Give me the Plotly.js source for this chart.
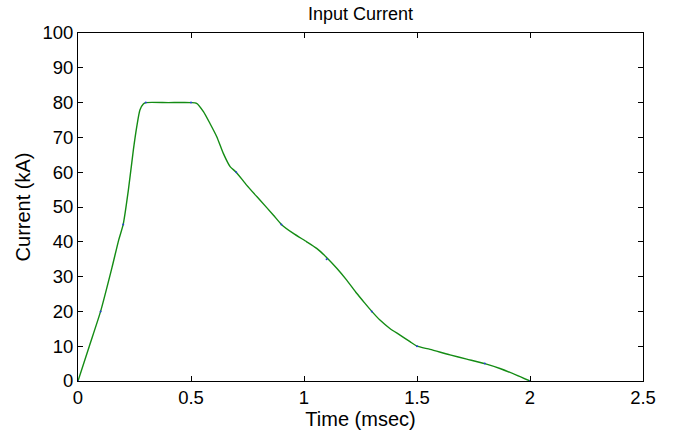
<!DOCTYPE html>
<html>
<head>
<meta charset="utf-8">
<script src="https://cdn.plot.ly/plotly-3.0.1.min.js"></script>
<style>html,body{margin:0;padding:0;background:#fff;}#chart{width:679px;height:436px;}</style>
</head>
<body>
<div id="chart"></div>
<script>
// Input current waveform (time in msec, current in kA)
const timeMs = [0, 0.05, 0.1, 0.15, 0.18, 0.2, 0.223, 0.245, 0.26, 0.274, 0.289, 0.3,
  0.4, 0.5, 0.525, 0.555, 0.584, 0.614, 0.643, 0.673, 0.7, 0.746, 0.805, 0.864, 0.9,
  0.953, 1.012, 1.056, 1.1, 1.145, 1.189, 1.233, 1.27, 1.3, 1.336, 1.38, 1.425, 1.469,
  1.5, 1.558, 1.646, 1.72, 1.8, 1.867, 1.94, 2.0];
const currentKA = [0, 10, 20, 32.5, 40.5, 45, 54.9, 66.4, 73.1, 77.9, 79.6, 80,
  80, 80, 79.8, 77.4, 74, 70.2, 65.4, 61.6, 60, 56.3, 52, 47.7, 45,
  42.4, 40, 38.1, 35.5, 32.4, 29, 25.2, 22.3, 20, 17.5, 15.1, 13.2, 11.3,
  10, 9.1, 7.5, 6.3, 5, 3.6, 1.7, 0];
// Sample points marked with small dots
const sampleTime = [0, 0.1, 0.2, 0.3, 0.5, 0.7, 0.9, 1.1, 1.3, 1.5, 1.8, 2.0];
const sampleCurrent = [0, 20, 45, 80, 80, 60, 45, 35, 20, 10, 5, 0];

const xTicks = [0, 0.5, 1, 1.5, 2, 2.5];
const xTickText = ['0', '0.5', '1', '1.5', '2', '2.5'];
const yTicks = [0, 10, 20, 30, 40, 50, 60, 70, 80, 90, 100];

const font = 'Liberation Sans, Arial, sans-serif';

const traces = [
  {x: timeMs, y: currentKA, type: 'scatter', mode: 'lines',
   line: {color: 'rgb(20,140,20)', width: 1.4, shape: 'spline', smoothing: 0.6},
   hoverinfo: 'skip', showlegend: false},
  {x: sampleTime, y: sampleCurrent, type: 'scatter', mode: 'markers',
   marker: {color: 'rgb(40,60,220)', size: 2}, showlegend: false}
];

const axisCommon = {
  showline: true, linecolor: '#000', linewidth: 1, mirror: 'ticks',
  ticks: 'inside', ticklen: 5, tickwidth: 1, tickcolor: '#000',
  showgrid: false, zeroline: false,
  tickfont: {family: font, size: 18.5, color: '#000'}
};

const layout = {
  width: 679, height: 436,
  margin: {l: 78, r: 36, t: 33, b: 55},
  paper_bgcolor: '#fff', plot_bgcolor: '#fff',
  title: {text: 'Input Current', font: {family: font, size: 18, color: '#000'},
          x: 0.5, xanchor: 'center', y: 0.968, yanchor: 'middle', xref: 'paper'},
  xaxis: Object.assign({}, axisCommon, {
    range: [0, 2.5], tickvals: xTicks, ticktext: xTickText,
    title: {text: 'Time (msec)', font: {family: font, size: 20, color: '#000'}, standoff: 4}
  }),
  yaxis: Object.assign({}, axisCommon, {
    range: [0, 100], tickvals: yTicks,
    title: {text: 'Current (kA)', font: {family: font, size: 20, color: '#000'}, standoff: 6}
  })
};

Plotly.newPlot('chart', traces, layout, {displayModeBar: false, staticPlot: true});
</script>
</body>
</html>
